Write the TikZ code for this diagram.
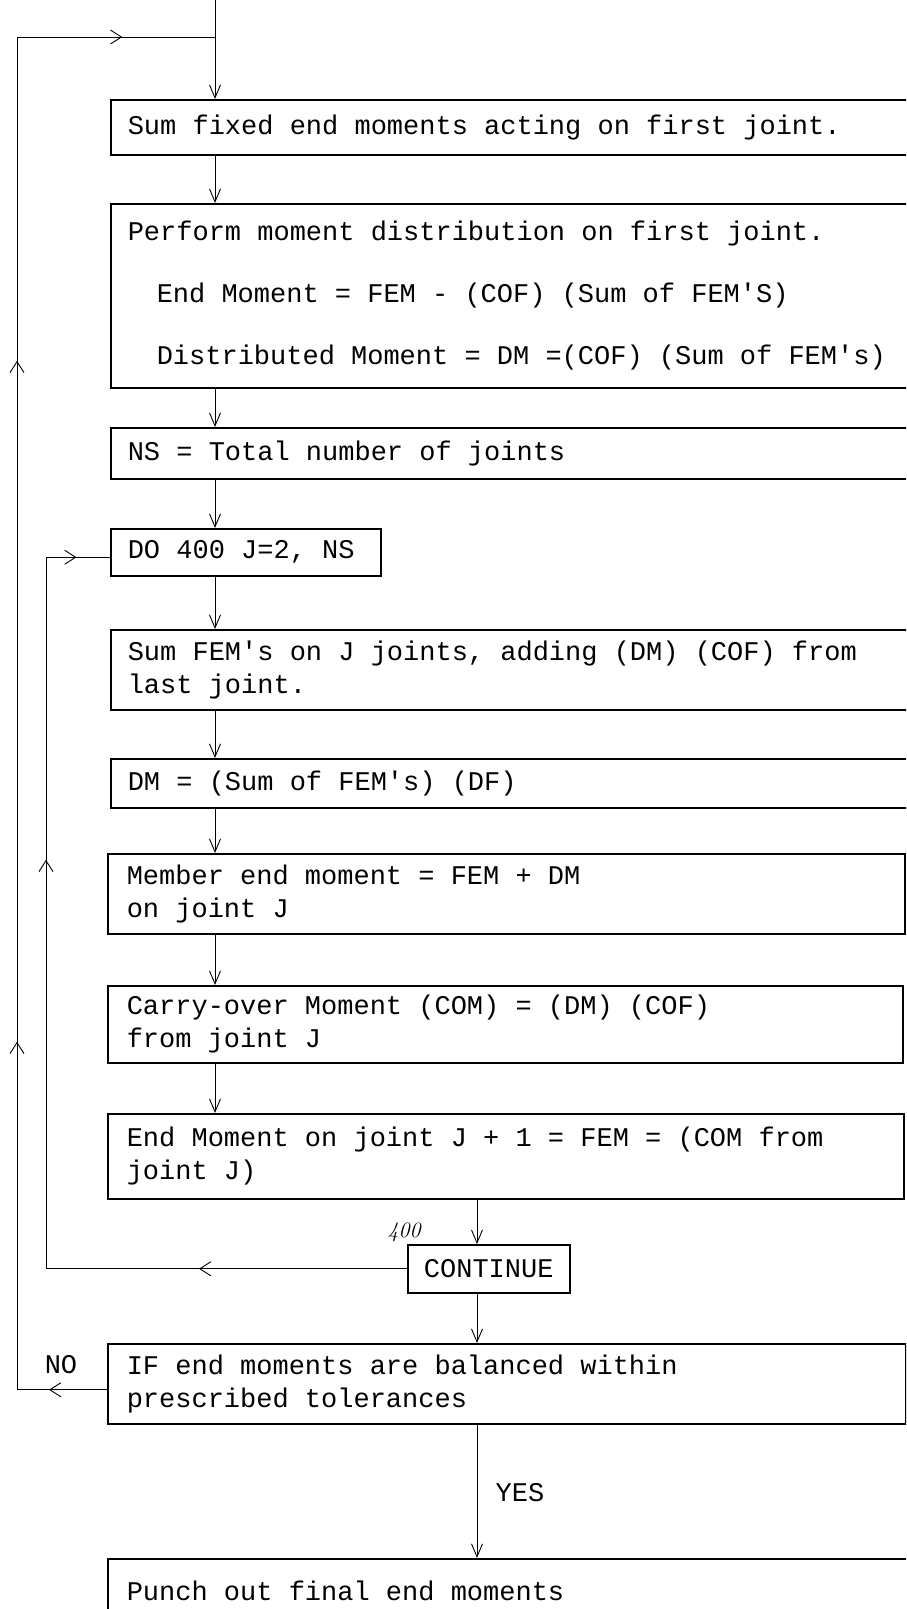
\documentclass[tikz,border=0pt]{standalone}
\usepackage{fontspec}
\setmonofont{Liberation Mono}
\usetikzlibrary{arrows.meta,decorations.markings}
\newcommand\typefont{\ttfamily\fontsize{27}{33}\selectfont}
\newcommand\ts{\hspace*{16.2pt}}
\def\twend{}
\def\tw#1{\twb#1 \twend}
\def\twb#1 #2\twend{#1\ifx\relax#2\relax\else\ts\twb#2\twend\fi}
\tikzset{
  box/.style={draw, line width=1.5pt, anchor=north west, align=left, inner xsep=17pt, inner ysep=0pt, font=\typefont},
  boxb/.style={box, inner xsep=19pt},
  contbox/.style={draw, line width=1.5pt, anchor=north west, align=center, inner sep=0pt, minimum width=162pt, minimum height=48pt, font=\typefont},
  lbl/.style={font=\typefont, inner sep=0pt},
  flow/.style={line width=0.9pt},
  arr/.style={flow, -{Straight Barb[length=13pt,width=11pt]}},
  midtip/.tip={Straight Barb[length=11pt,width=14pt]}
}
\begin{document}
\begin{tikzpicture}[x=1pt,y=-1pt]
\path[use as bounding box] (0,0) rectangle (906,1609);
\fill[white] (0,0) rectangle (906,1609);
\clip (0,0) rectangle (906,1609);

\coordinate (cx) at (215,0);
\coordinate (cy) at (477,0);
\coordinate (ol) at (17,0);
\coordinate (il) at (46,0);
\coordinate (jn) at (215,37);

\node[box, text width=766pt, minimum height=55pt] (b1) at (110,99)
  {\tw{Sum fixed end moments acting on first joint.}};
\node[box, text width=766pt, minimum height=184pt] (b2) at (110,203)
  {\tw{Perform moment distribution on first joint.}\\[29pt]
   \hspace*{29pt}\tw{End Moment = FEM - (COF) (Sum of FEM'S)}\\[29pt]
   \hspace*{29pt}\tw{Distributed Moment = DM =(COF) (Sum of FEM's)}};
\node[box, text width=766pt, minimum height=51pt] (b3) at (110,427)
  {\tw{NS = Total number of joints}};
\node[box, text width=236pt, minimum height=47pt] (b4) at (110,528)
  {\tw{DO 400 J=2, NS}};
\node[box, text width=766pt, minimum height=80pt] (b5) at (110,629)
  {\tw{Sum FEM's on J joints, adding (DM) (COF) from}\\\tw{last joint.}};
\node[box, text width=766pt, minimum height=49pt] (b6) at (110,758)
  {\tw{DM = (Sum of FEM's) (DF)}};
\node[boxb, text width=759pt, minimum height=80pt] (b7) at (107,853)
  {\tw{Member end moment = FEM + DM}\\\tw{on joint J}};
\node[boxb, text width=757pt, minimum height=77pt] (b8) at (107,985)
  {\tw{Carry-over Moment (COM) = (DM) (COF)}\\\tw{from joint J}};
\node[boxb, text width=758pt, minimum height=85pt] (b9) at (107,1113)
  {\tw{End Moment on joint J + 1 = FEM = (COM from}\\\tw{joint J)}};
\node[contbox] (cont) at (407,1244) {CONTINUE};
\node[boxb, text width=760pt, minimum height=80pt] (b10) at (107,1343)
  {\tw{IF end moments are balanced within}\\\tw{prescribed tolerances}};
\node[boxb, text width=762pt, minimum height=64pt] (b11) at (107,1558)
  {\tw{Punch out final end moments}};

\node[lbl] (no) at (61,1365) {NO};
\node[lbl] (yes) at (520,1493) {YES};
\node[inner sep=0pt, font=\fontsize{22}{22}\selectfont\itshape] (n400) at (404,1232) {400};

% main flow
\draw[arr] (cx) -- (cx |- b1.north);
\draw[arr] (b1.south -| cx) -- (b2.north -| cx);
\draw[arr] (b2.south -| cx) -- (b3.north -| cx);
\draw[arr] (b3.south -| cx) -- (b4.north -| cx);
\draw[arr] (b4.south -| cx) -- (b5.north -| cx);
\draw[arr] (b5.south -| cx) -- (b6.north -| cx);
\draw[arr] (b6.south -| cx) -- (b7.north -| cx);
\draw[arr] (b7.south -| cx) -- (b8.north -| cx);
\draw[arr] (b8.south -| cx) -- (b9.north -| cx);
\draw[arr] (b9.south -| cy) -- (cont.north -| cy);
\draw[arr] (cont.south -| cy) -- (b10.north -| cy);
\draw[arr] (b10.south -| cy) -- (b11.north -| cy);

% outer loop (NO)
\coordinate (nostart) at ([yshift=-6pt]b10.west);
\draw[flow, postaction=decorate, decoration={markings,
    mark=at position 58pt with {\arrow{midtip}},
    mark=at position 438pt with {\arrow{midtip}},
    mark=at position 1119pt with {\arrow{midtip}},
    mark=at position 1548pt with {\arrow{midtip}}}]
  (nostart) -- (nostart -| ol) -- (ol |- jn) -- (jn);

% inner loop (400 CONTINUE)
\coordinate (doin) at ([yshift=-5pt]b4.west);
\draw[flow, postaction=decorate, decoration={markings,
    mark=at position 208pt with {\arrow{midtip}},
    mark=at position 770pt with {\arrow{midtip}},
    mark=at position 1103pt with {\arrow{midtip}}}]
  (cont.west) -- (cont.west -| il) -- (il |- doin) -- (doin);
\end{tikzpicture}
\end{document}
